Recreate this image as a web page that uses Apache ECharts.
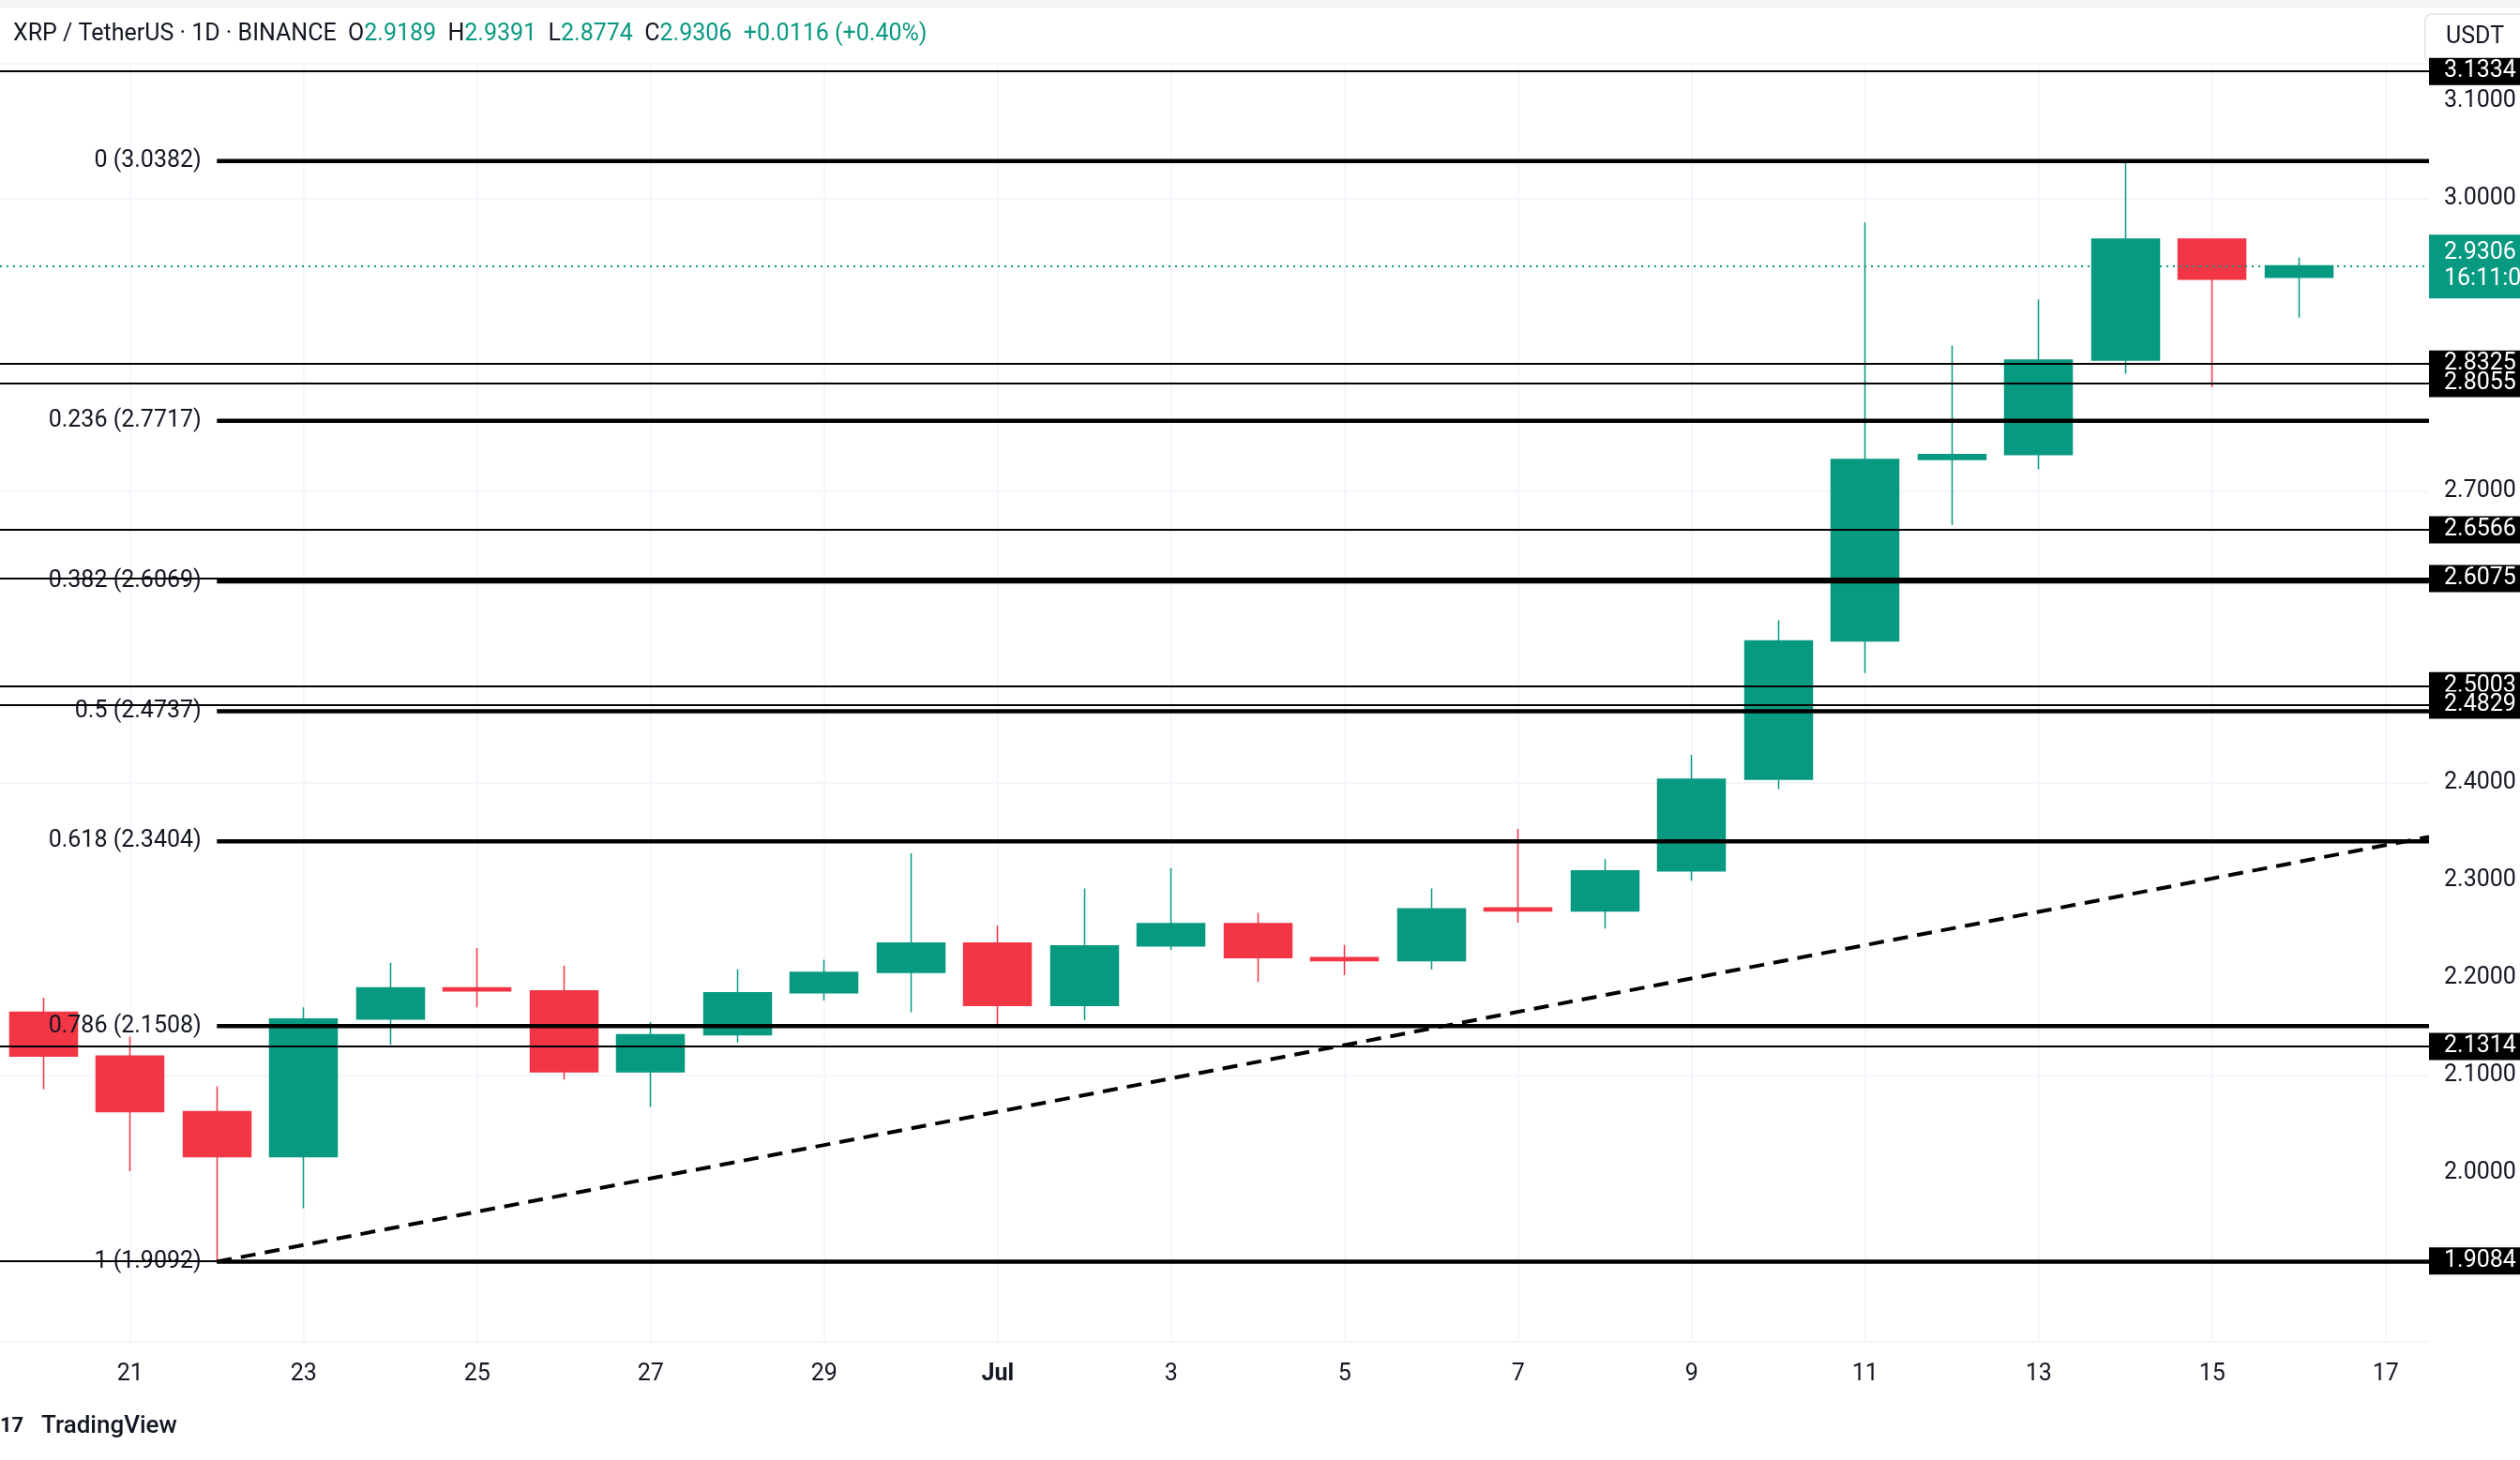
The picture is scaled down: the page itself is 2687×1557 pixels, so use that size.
<!DOCTYPE html>
<html>
<head>
<meta charset="utf-8">
<script src="https://cdn.jsdelivr.net/npm/echarts@6/dist/echarts.min.js"></script>
<style>html,body{margin:0;padding:0;background:#fff}#main{width:2687px;height:1557px}</style>
</head>
<body>
<div id="main"></div>
<script>
// 日期
var days = ['20','21','22','23','24','25','26','27','28','29','30','Jul','2','3','4','5','6','7','8','9','10','11','12','13','14','15','16','17'];
// OHLC
var opens  = [2.165,2.120,2.063,2.017,2.158,2.190,2.187,2.104,2.142,2.185,2.206,2.236,2.172,2.233,2.256,2.221,2.218,2.272,2.269,2.310,2.404,2.546,2.732,2.737,2.834,2.958,2.9189];
var highs  = [2.180,2.140,2.089,2.170,2.216,2.231,2.213,2.155,2.209,2.219,2.328,2.254,2.292,2.313,2.267,2.234,2.292,2.353,2.322,2.429,2.567,2.975,2.849,2.896,3.036,2.958,2.9391];
var lows   = [2.086,2.002,1.909,1.964,2.132,2.170,2.096,2.068,2.134,2.177,2.165,2.152,2.157,2.229,2.196,2.203,2.209,2.257,2.251,2.300,2.394,2.513,2.665,2.722,2.820,2.806,2.8774];
var closes = [2.120,2.063,2.017,2.158,2.190,2.187,2.104,2.142,2.185,2.206,2.236,2.172,2.233,2.256,2.221,2.218,2.271,2.269,2.310,2.404,2.546,2.732,2.737,2.834,2.958,2.917,2.9306];
// 斐波那契
var fibRatios = ['0','0.236','0.382','0.5','0.618','0.786','1'];
var fibPrices = [3.0382,2.7717,2.6069,2.4737,2.3404,2.1508,1.9092];
// 水平线
var levels = [3.1334,2.8325,2.8055,2.6566,2.6075,2.5003,2.4829,2.1314,1.9084];
var priceTicks = [2.0,2.1,2.2,2.3,2.4,2.7,3.0,3.1];
var trend = [[2,1.9092],[27.5,2.345]];
var lastPrice = 2.9306;

var up = '#089981', down = '#F23645';
var dom = document.getElementById('main');
var myChart = echarts.init(dom);
var fnt = 'Roboto, "Noto Sans", sans-serif';

var candleData = opens.map(function (o, i) { return [o, closes[i], lows[i], highs[i]]; });

var levelLines = levels.map(function (v) {
    return {yAxis: v, lineStyle: {color: '#000', width: 2, type: 'solid'},
        label: {show: true, position: 'end', formatter: v.toFixed(4), color: '#fff', backgroundColor: '#000',
            fontSize: 25, fontFamily: fnt, padding: [2, 16, 2, 16], distance: 0}};
});
levelLines.push({yAxis: lastPrice, lineStyle: {color: up, width: 2, type: [2, 5]},
    label: {show: true, position: 'end', formatter: '2.9306\n16:11:0', color: '#fff', backgroundColor: up,
        fontSize: 25, fontFamily: fnt, lineHeight: 28, padding: [6, 16, 6, 16], distance: 0}});

// 半日刻度，仅用于竖向网格线
var halfSlots = [];
for (var h = 0; h <= 56; h++) halfSlots.push(String(h));

var series = [{
    type: 'line', xAxisIndex: 2, symbol: 'none', silent: true, z: 0,
    data: halfSlots.map(function () { return '-'; })
}, {
    type: 'candlestick', z: 3,
    data: candleData,
    barWidth: '78%',
    itemStyle: {color: up, color0: down, borderColor: up, borderColor0: down, borderWidth: 1.5},
    markLine: {symbol: 'none', silent: true, animation: false, data: levelLines}
}];

fibPrices.forEach(function (p, i) {
    series.push({
        type: 'line', xAxisIndex: 1, symbol: 'circle', symbolSize: 1, showSymbol: true, silent: true, z: 4,
        itemStyle: {color: 'rgba(0,0,0,0)'},
        data: [[2, p], [27.5, p]],
        lineStyle: {color: '#000', width: 4.5},
        label: {show: true, position: 'left', distance: 16, formatter: function (d) {
            return d.dataIndex === 0 ? fibRatios[i] + ' (' + p.toFixed(4) + ')' : '';
        }, color: '#131722', fontSize: 25, fontFamily: fnt}
    });
});
series.push({
    type: 'line', xAxisIndex: 1, symbol: 'none', silent: true, data: trend, z: 4,
    lineStyle: {color: '#000', width: 4, type: [16, 10]}
});

var option = {
    animation: false,
    backgroundColor: '#fff',
    grid: {left: 0, right: 97, top: 68, bottom: 126},
    xAxis: [{
        type: 'category', data: days, boundaryGap: true,
        axisLine: {show: false}, axisTick: {show: false},
        axisLabel: {interval: function (i) { return i % 2 === 1; }, color: '#131722', fontSize: 25, fontFamily: fnt, margin: 22,
            formatter: function (v) { return v === 'Jul' ? '{b|Jul}' : v; }, rich: {b: {fontWeight: 'bold', fontSize: 25, fontFamily: fnt}}},
        splitLine: {show: false}
    }, {
        type: 'value', min: -0.5, max: 27.5, show: false
    }, {
        type: 'category', data: halfSlots, boundaryGap: false, show: true, position: 'bottom',
        axisLine: {show: false}, axisTick: {show: false, interval: function (j) { return j % 4 === 3; }},
        axisLabel: {show: false, interval: function (j) { return j % 4 === 3; }},
        splitLine: {show: true, interval: function (j) { return j % 4 === 3; }, lineStyle: {color: '#f0f3fa', width: 1.5}}
    }],
    yAxis: {
        type: 'value', position: 'right', min: 1.827, max: 3.1379, scale: true,
        axisLine: {show: false}, axisTick: {show: false},
        axisLabel: {customValues: priceTicks, formatter: function (v) { return v.toFixed(4); }, color: '#131722', fontSize: 25, fontFamily: fnt, margin: 16},
        splitLine: {show: true, lineStyle: {color: '#f0f3fa', width: 1.5}}
    },
    graphic: [
        {type: 'rect', left: 0, top: 0, shape: {width: 2687, height: 8}, style: {fill: '#f3f4f6'}},
        {type: 'text', left: 14, top: 24, style: {rich: {
            k: {fill: '#131722', fontSize: 25, fontFamily: fnt},
            g: {fill: up, fontSize: 25, fontFamily: fnt}
        }, text: '{k|XRP / TetherUS · 1D · BINANCE  O}{g|2.9189}{k|  H}{g|2.9391}{k|  L}{g|2.8774}{k|  C}{g|2.9306  +0.0116 (+0.40%)}'}},
        {type: 'rect', left: 2585, top: 14, shape: {width: 110, height: 52, r: 8}, style: {fill: '#fff', stroke: '#e0e3eb', lineWidth: 1.5}},
        {type: 'text', left: 2608, top: 27, style: {text: 'USDT', fill: '#131722', fontSize: 25, fontFamily: fnt}},
        {type: 'text', left: 0, top: 1510, style: {text: '17', fill: '#131722', fontSize: 22, fontWeight: 'bold', fontFamily: fnt}},
        {type: 'text', left: 44, top: 1508, style: {text: 'TradingView', fill: '#131722', fontSize: 26, fontFamily: fnt, fontWeight: 500}}
    ],
    series: series
};
myChart.setOption(option);
</script>
</body>
</html>
